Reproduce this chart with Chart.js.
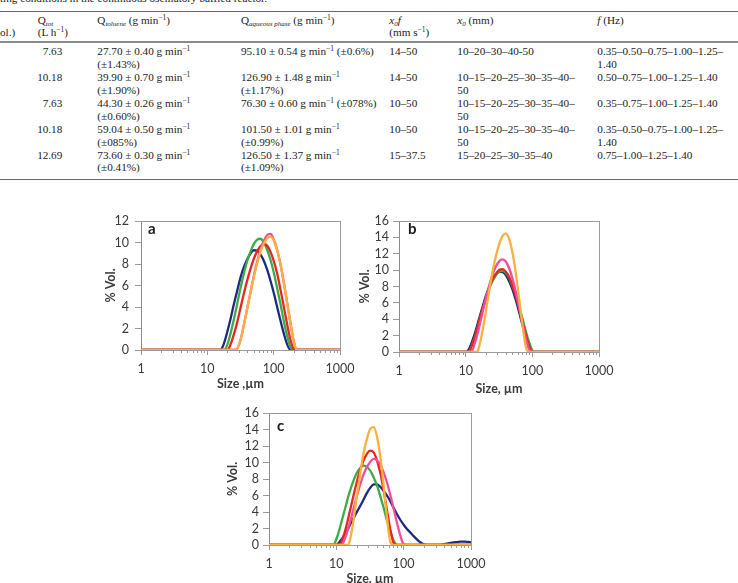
<!DOCTYPE html>
<html>
<head>
<meta charset="utf-8">
<script src="https://cdn.jsdelivr.net/npm/chart.js@4.4.1/dist/chart.umd.min.js"></script>
<style>
  html, body { margin: 0; padding: 0; background: #fff; }
  body { position: relative; width: 738px; height: 583px; overflow: hidden; }
  #tbl { position: absolute; left: 0; top: 0; width: 738px; height: 190px;
         font-family: "Liberation Serif", "DejaVu Serif", serif; font-size: 11.2px; color: #222; }
  .c { position: absolute; white-space: nowrap; line-height: 13px; height: 13px; }
  .rule { position: absolute; left: 0; width: 738px; }
  sup { font-size: 7.5px; line-height: 0; vertical-align: baseline; position: relative; top: -4px; }
  sub { font-size: 7px; line-height: 0; vertical-align: baseline; position: relative; top: 2px; font-style: italic; }
  canvas { position: absolute; }
</style>
</head>
<body>
<div id="tbl"></div>
<script>
// ---- table text ----
const qTot = ['7.63', '10.18', '7.63', '10.18', '12.69'];
const qToluene = [
  ['27.70 ± 0.40 g min⁻¹', '(±1.43%)'],
  ['39.90 ± 0.70 g min⁻¹', '(±1.90%)'],
  ['44.30 ± 0.26 g min⁻¹', '(±0.60%)'],
  ['59.04 ± 0.50 g min⁻¹', '(±085%)'],
  ['73.60 ± 0.30 g min⁻¹', '(±0.41%)']
];
const qAqueous = [
  ['95.10 ± 0.54 g min⁻¹ (±0.6%)'],
  ['126.90 ± 1.48 g min⁻¹', '(±1.17%)'],
  ['76.30 ± 0.60 g min⁻¹ (±078%)'],
  ['101.50 ± 1.01 g min⁻¹', '(±0.99%)'],
  ['126.50 ± 1.37 g min⁻¹', '(±1.09%)']
];
const x0fRange = ['14–50', '14–50', '10–50', '10–50', '15–37.5'];
const x0List = [
  ['10–20–30–40-50'],
  ['10–15–20–25–30–35–40–', '50'],
  ['10–15–20–25–30–35–40–', '50'],
  ['10–15–20–25–30–35–40–', '50'],
  ['15–20–25–30–35–40']
];
const fList = [
  ['0.35–0.50–0.75–1.00–1.25–', '1.40'],
  ['0.50–0.75–1.00–1.25–1.40'],
  ['0.35–0.75–1.00–1.25–1.40'],
  ['0.35–0.50–0.75–1.00–1.25–', '1.40'],
  ['0.75–1.00–1.25–1.40']
];

// ---- chart data (size in µm, % vol) ----
const xTicks = [1, 10, 100, 1000];
const yTicksA = [0, 2, 4, 6, 8, 10, 12];
const yTicksB = [0, 2, 4, 6, 8, 10, 12, 14, 16];
const yTicksC = [0, 2, 4, 6, 8, 10, 12, 14, 16];

const sizesA = [1, 2, 5, 10, 14, 16, 18, 20, 22, 25, 28, 32, 36, 40, 45, 50, 56, 63, 71, 80, 90, 100, 112, 126, 142, 159, 178, 200, 224, 252, 300, 500, 1000];
const navyA   = [0, 0, 0, 0, 0, 0.05, 0.7, 1.7, 2.7, 4.2, 5.45, 6.85, 7.8, 8.45, 9.0, 9.28, 9.25, 8.9, 8.3, 7.45, 6.4, 5.35, 4.1, 2.8, 1.55, 0.55, 0.02, 0, 0, 0, 0, 0, 0];
const greenA  = [0, 0, 0, 0, 0, 0, 0, 0.5, 1.35, 2.8, 4.2, 5.9, 7.25, 8.3, 9.2, 9.85, 10.25, 10.35, 10.0, 9.3, 8.35, 7.25, 5.85, 4.35, 2.7, 1.35, 0.3, 0, 0, 0, 0, 0, 0];
const redA    = [0, 0, 0, 0, 0, 0, 0, 0, 0.4, 1.4, 2.5, 4.05, 5.4, 6.5, 7.6, 8.45, 9.15, 9.65, 9.88, 9.7, 9.1, 8.3, 7.2, 5.7, 4.05, 2.45, 1.0, 0.1, 0, 0, 0, 0, 0];
const pinkA   = [0, 0, 0, 0, 0, 0, 0, 0, 0, 0, 0.1, 1.05, 2.5, 3.9, 5.45, 6.85, 8.15, 9.3, 10.15, 10.7, 10.8, 10.3, 9.4, 8.05, 6.3, 4.45, 2.6, 0.85, 0, 0, 0, 0, 0];
const orangeA = [0, 0, 0, 0, 0, 0, 0, 0, 0, 0, 0.1, 1.05, 2.5, 3.9, 5.4, 6.75, 8.0, 9.1, 9.9, 10.4, 10.55, 10.2, 9.35, 8.05, 6.3, 4.45, 2.6, 0.85, 0, 0, 0, 0, 0];

const sizesB = [1, 2, 5, 10, 11, 12, 13, 14, 15, 16, 18, 20, 22, 25, 28, 32, 36, 40, 45, 50, 56, 63, 71, 80, 90, 100, 112, 126, 200, 500, 1000];
const navyB   = [0, 0, 0, 0, 0.25, 0.9, 1.7, 2.5, 3.35, 4.15, 5.55, 6.8, 7.7, 8.7, 9.35, 9.8, 9.75, 9.4, 8.6, 7.7, 6.45, 4.95, 3.3, 1.7, 0.5, 0, 0, 0, 0, 0, 0];
const greenB  = [0, 0, 0, 0, 0, 0.5, 1.25, 2.05, 2.9, 3.75, 5.2, 6.4, 7.5, 8.6, 9.3, 9.85, 9.92, 9.65, 9.05, 8.15, 7.05, 5.6, 4.1, 2.5, 1.15, 0.2, 0, 0, 0, 0, 0];
const redB    = [0, 0, 0, 0, 0, 0.5, 1.25, 2.1, 2.95, 3.8, 5.3, 6.55, 7.65, 8.8, 9.5, 10.05, 10.12, 9.8, 9.15, 8.15, 6.95, 5.4, 3.75, 2.1, 0.7, 0, 0, 0, 0, 0, 0];
const pinkB   = [0, 0, 0, 0, 0, 0, 0.5, 1.3, 2.15, 3.1, 4.9, 6.5, 7.8, 9.35, 10.35, 11.1, 11.32, 11.05, 10.2, 9.05, 7.5, 5.6, 3.5, 1.6, 0.25, 0, 0, 0, 0, 0, 0];
const orangeB = [0, 0, 0, 0, 0, 0, 0, 0, 0.05, 0.75, 2.7, 4.9, 6.95, 9.55, 11.5, 13.25, 14.2, 14.5, 13.8, 12.25, 9.85, 6.7, 3.35, 0.6, 0, 0, 0, 0, 0, 0, 0];

const sizesC = [1, 2, 5, 8, 9, 10, 11, 12, 13, 14, 15, 16, 18, 20, 22, 25, 28, 32, 36, 40, 45, 50, 56, 63, 71, 80, 90, 100, 112, 126, 142, 159, 178, 200, 250, 300, 350, 400, 500, 600, 700, 800, 900, 1000];
const navyC   = [0, 0, 0, 0, 0, 0, 0.3, 0.7, 1.15, 1.6, 2.0, 2.45, 3.25, 3.95, 4.55, 5.4, 6.2, 6.95, 7.35, 7.35, 7.05, 6.6, 6.05, 5.35, 4.5, 3.7, 3.0, 2.45, 1.95, 1.5, 1.05, 0.65, 0.3, 0.08, 0, 0, 0.02, 0.1, 0.25, 0.35, 0.4, 0.4, 0.37, 0.33];
const greenC  = [0, 0, 0, 0, 0, 0.7, 1.75, 2.9, 3.95, 4.9, 5.85, 6.6, 7.8, 8.7, 9.2, 9.63, 9.5, 9.0, 8.15, 7.25, 5.9, 4.6, 3.1, 1.7, 0.5, 0, 0, 0, 0, 0, 0, 0, 0, 0, 0, 0, 0, 0, 0, 0, 0, 0, 0, 0];
const redC    = [0, 0, 0, 0, 0, 0, 0, 0.45, 1.25, 2.2, 3.2, 4.2, 6.0, 7.55, 8.8, 10.1, 10.95, 11.43, 11.2, 10.3, 8.75, 6.8, 4.4, 2.0, 0.25, 0, 0, 0, 0, 0, 0, 0, 0, 0, 0, 0, 0, 0, 0, 0, 0, 0, 0, 0];
const pinkC   = [0, 0, 0, 0, 0, 0, 0, 0, 0.5, 1.2, 2.0, 2.8, 4.4, 5.8, 7.0, 8.4, 9.35, 10.1, 10.43, 10.3, 9.75, 8.9, 7.7, 6.15, 4.4, 2.6, 1.05, 0.1, 0, 0, 0, 0, 0, 0, 0, 0, 0, 0, 0, 0, 0, 0, 0, 0];
const orangeC = [0, 0, 0, 0, 0, 0, 0, 0, 0, 0, 0, 0.7, 3.0, 5.75, 8.0, 10.85, 12.65, 14.1, 14.3, 13.2, 10.7, 7.5, 3.65, 0.45, 0, 0, 0, 0, 0, 0, 0, 0, 0, 0, 0, 0, 0, 0, 0, 0, 0, 0, 0, 0];

// ---- colours / fonts ----
const colors = { orange: '#FAB03C', pink: '#EE4F9C', red: '#E8261F', green: '#3BAA48', navy: '#1D2B7E' };
const axisGray = '#9A9A9A';
const textColor = '#3A3A3A';
const tickFont = { family: 'Lato', size: 12.5 };
const titleFont = { family: 'Lato', size: 12.5, weight: 'bold' };

// ---- table ----
const tbl = document.getElementById('tbl');
const fmt = s => s.replace('⁻¹', '<sup>−1</sup>');
const lineH = 12.9;

function cell(lines, left, top, extra) {
  lines.forEach((html, k) => {
    const d = document.createElement('div');
    d.className = 'c';
    d.style.left = left + 'px';
    d.style.top = (top + k * lineH) + 'px';
    if (extra) Object.assign(d.style, extra);
    d.innerHTML = html;
    tbl.appendChild(d);
  });
}
function rule(top, h, color) {
  const d = document.createElement('div');
  d.className = 'rule';
  d.style.top = top + 'px';
  d.style.height = h + 'px';
  d.style.background = color;
  tbl.appendChild(d);
}

cell(['ting conditions in the continuous oscillatory baffled reactor.'], 0, -8.5);
rule(10.5, 1, '#666');
rule(41, 1.5, '#8a8a8a');
rule(178.5, 1, '#666');

const hTop = 13.5;
cell(['', 'ol.)'], 0, hTop);
cell(['Q<sub>tot</sub>', '(L h<sup>−1</sup>)'], 37.7, hTop);
cell(['Q<sub>toluene</sub> (g min<sup>−1</sup>)'], 97.3, hTop);
cell(['Q<sub>aqueous phase</sub> (g min<sup>−1</sup>)'], 241, hTop);
cell(['<i>x<sub>0</sub>f</i>', '(mm s<sup>−1</sup>)'], 389.3, hTop);
cell(['<i>x<sub>0</sub></i> (mm)'], 457.3, hTop);
cell(['<i>f</i> (Hz)'], 597.3, hTop);

qTot.forEach((q, i) => {
  const top = 45.3 + i * 25.8;
  cell([q], 0, top, { width: '62.3px', textAlign: 'right' });
  cell(qToluene[i].map(fmt), 97.3, top);
  cell(qAqueous[i].map(fmt), 241, top);
  cell([x0fRange[i]], 389.3, top);
  cell(x0List[i], 457.3, top);
  cell(fList[i], 597.3, top);
});

// ---- charts ----
const panelExtras = {
  id: 'panelExtras',
  afterDraw(chart, args, opts) {
    const { ctx, chartArea, scales: { x } } = chart;
    ctx.save();
    ctx.strokeStyle = axisGray;
    ctx.lineWidth = 1;
    ctx.beginPath();
    for (let d = 1; d < 1000; d *= 10) {
      for (let m = 2; m <= 9; m++) {
        const px = Math.round(x.getPixelForValue(d * m)) + 0.5;
        ctx.moveTo(px, chartArea.bottom);
        ctx.lineTo(px, chartArea.bottom + 3);
      }
    }
    ctx.stroke();
    ctx.fillStyle = '#1a1a1a';
    ctx.font = 'bold 15px Lato';
    ctx.textBaseline = 'middle';
    ctx.fillText(opts.letter, chartArea.left + opts.dx, chartArea.top + opts.dy);
    ctx.restore();
  }
};

function makeChart(cfg) {
  const { area, sizes, series, yTicks } = cfg;
  const yw = 45, topH = 16, rightW = 19, xh = 50;
  const canvas = document.createElement('canvas');
  canvas.width = Math.round(area.right - area.left + yw + rightW);
  canvas.height = Math.round(area.bottom - area.top + topH + xh);
  canvas.style.left = (area.left - yw) + 'px';
  canvas.style.top = (area.top - topH) + 'px';
  document.body.appendChild(canvas);

  new Chart(canvas.getContext('2d'), {
    type: 'line',
    data: {
      datasets: series.map(s => ({
        data: sizes.map((v, i) => ({ x: v, y: s.values[i] })),
        borderColor: s.color,
        borderWidth: 2.3,
        pointRadius: 0,
        fill: false,
        cubicInterpolationMode: 'monotone'
      }))
    },
    options: {
      responsive: false,
      animation: false,
      events: [],
      layout: { padding: 0 },
      plugins: {
        legend: { display: false },
        tooltip: { enabled: false },
        panelExtras: { letter: cfg.letter, dx: cfg.letterDx, dy: cfg.letterDy }
      },
      scales: {
        x: {
          type: 'logarithmic', position: 'bottom', min: 1, max: 1000,
          afterBuildTicks: s => { s.ticks = xTicks.map(v => ({ value: v })); },
          afterFit: s => { s.height = xh; },
          ticks: { callback: v => String(v), color: textColor, font: tickFont, padding: 6.5, maxRotation: 0, autoSkip: false },
          grid: { drawOnChartArea: false, tickLength: 5, tickColor: axisGray, color: axisGray },
          border: { color: axisGray, width: 1 },
          title: { display: true, text: cfg.xTitle, color: textColor, font: titleFont, padding: { top: 0, bottom: cfg.xTitlePad } }
        },
        y: {
          type: 'linear', position: 'left', min: yTicks[0], max: yTicks[yTicks.length - 1],
          afterBuildTicks: s => { s.ticks = yTicks.map(v => ({ value: v })); },
          afterFit: s => { s.width = yw; },
          ticks: { color: textColor, font: tickFont, padding: cfg.yLabelPad, autoSkip: false },
          grid: { drawOnChartArea: false, tickLength: 6, tickColor: axisGray, color: axisGray },
          border: { color: '#8a8a8a', width: 1 },
          title: { display: true, text: '% Vol.', color: textColor, font: titleFont, padding: { top: cfg.yTitlePad, bottom: 0 } }
        },
        x2: {
          type: 'linear', position: 'top', min: 0, max: 1,
          ticks: { display: false }, grid: { display: false },
          border: { color: axisGray, width: 1 },
          afterFit: s => { s.height = topH; }
        },
        y2: {
          type: 'linear', position: 'right', min: 0, max: 1,
          ticks: { display: false }, grid: { display: false },
          border: { color: axisGray, width: 1 },
          afterFit: s => { s.width = rightW; }
        }
      }
    },
    plugins: [panelExtras]
  });
}

// first dataset is drawn on top
makeChart({
  area: { left: 140.5, right: 341, top: 220.5, bottom: 349 },
  sizes: sizesA, yTicks: yTicksA, letter: 'a', letterDx: 7, letterDy: 8,
  xTitle: 'Size ,µm', xTitlePad: 8.5, yTitlePad: 7.7, yLabelPad: 6,
  series: [
    { color: colors.orange, values: orangeA },
    { color: colors.pink, values: pinkA },
    { color: colors.red, values: redA },
    { color: colors.green, values: greenA },
    { color: colors.navy, values: navyA }
  ]
});
makeChart({
  area: { left: 399, right: 601, top: 220.5, bottom: 351.5 },
  sizes: sizesB, yTicks: yTicksB, letter: 'b', letterDx: 9, letterDy: 8,
  xTitle: 'Size, µm', xTitlePad: 5.2, yTitlePad: 3.5, yLabelPad: 4,
  series: [
    { color: colors.orange, values: orangeB },
    { color: colors.pink, values: pinkB },
    { color: colors.red, values: redB },
    { color: colors.green, values: greenB },
    { color: colors.navy, values: navyB }
  ]
});
makeChart({
  area: { left: 268.5, right: 472, top: 412.5, bottom: 544 },
  sizes: sizesC, yTicks: yTicksC, letter: 'c', letterDx: 8, letterDy: 13,
  xTitle: 'Size, µm', xTitlePad: 8.5, yTitlePad: 1.5, yLabelPad: 4,
  series: [
    { color: colors.orange, values: orangeC },
    { color: colors.pink, values: pinkC },
    { color: colors.red, values: redC },
    { color: colors.green, values: greenC },
    { color: colors.navy, values: navyC }
  ]
});
</script>
</body>
</html>
